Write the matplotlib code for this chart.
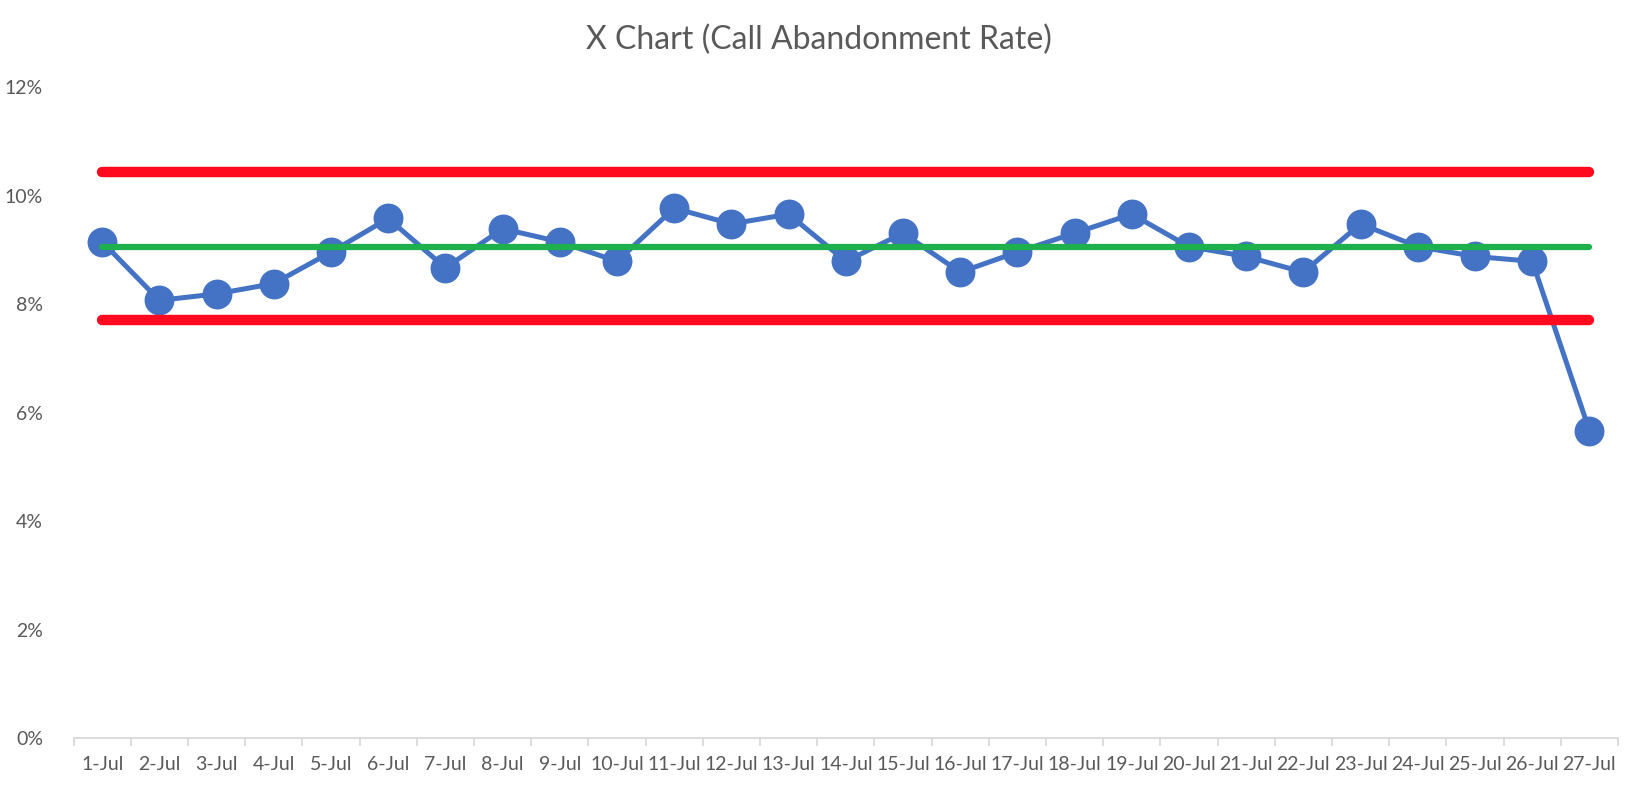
import matplotlib
matplotlib.use('Agg')
import matplotlib.pyplot as plt
from matplotlib.ticker import FixedLocator, PercentFormatter

days = ['%d-Jul' % d for d in range(1, 28)]
rate = [9.15, 8.07, 8.19, 8.38, 8.96, 9.58, 8.67, 9.39, 9.15, 8.79,
        9.77, 9.48, 9.66, 8.79, 9.31, 8.59, 8.96, 9.31, 9.66, 9.06,
        8.88, 8.59, 9.48, 9.06, 8.88, 8.79, 5.67]
mean = 9.06
ucl = 10.43
lcl = 7.70

plt.rcParams['font.family'] = ['Lato', 'DejaVu Sans']

fig = plt.figure(figsize=(16.46, 7.86), dpi=100)
ax = fig.add_axes([0.0447, 0.061, 0.9383, 0.828])

x = list(range(len(days)))
ax.plot(x, [r / 100 for r in rate], color='#4472C4', lw=3.6, marker='o',
        markersize=20.5, zorder=2)
ax.plot([x[0], x[-1]], [mean / 100] * 2, color='#1FB04E', lw=4.5,
        solid_capstyle='round', zorder=3)
for lim in (ucl, lcl):
    ax.plot([x[0], x[-1]], [lim / 100] * 2, color='#FF0A1E', lw=7.5,
            solid_capstyle='round', zorder=4)

ax.set_xlim(-0.5, len(days) - 0.5)
ax.set_ylim(0, 0.12)
ax.set_yticks([0, 0.02, 0.04, 0.06, 0.08, 0.10, 0.12])
ax.yaxis.set_major_formatter(PercentFormatter(1.0, decimals=0))
ax.set_xticks(x)
ax.set_xticklabels(days)
ax.xaxis.set_minor_locator(FixedLocator([i - 0.5 for i in range(len(days) + 1)]))

for s in ['top', 'right', 'left']:
    ax.spines[s].set_visible(False)
ax.spines['bottom'].set_color('#D9D9D9')
ax.spines['bottom'].set_linewidth(1.3)
ax.tick_params(axis='x', which='major', length=0, pad=13, labelsize=14,
               labelcolor='#595959')
ax.tick_params(axis='x', which='minor', length=6, color='#D9D9D9', width=1.3)
ax.tick_params(axis='y', length=0, pad=22, labelsize=14, labelcolor='#595959')

fig.text(0.4975, 0.949, 'X Chart (Call Abandonment Rate)', ha='center', va='center',
         fontsize=23, color='#595959')

fig.savefig('out.png', dpi=100)
